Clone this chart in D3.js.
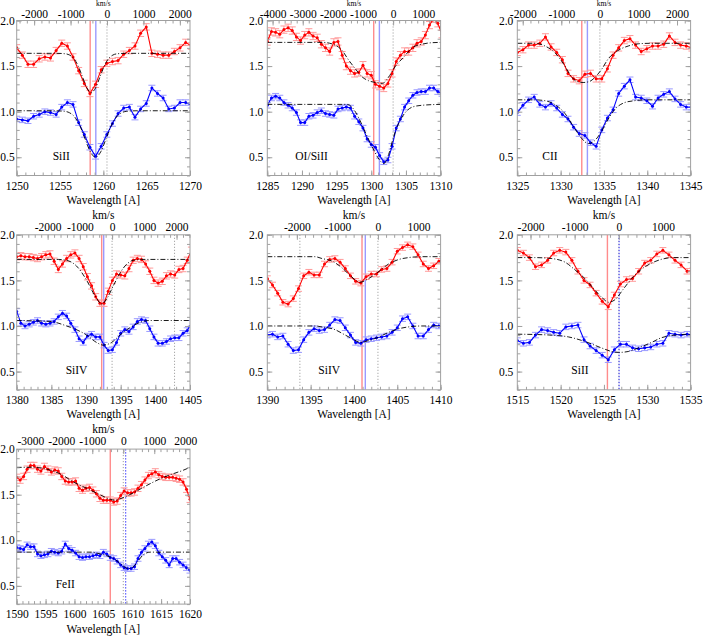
<!DOCTYPE html>
<html><head><meta charset="utf-8">
<script src="https://cdn.jsdelivr.net/npm/d3@7"></script>
<style>body{margin:0;background:#fff}svg{display:block}svg text{font-family:"Liberation Serif","DejaVu Serif",serif}</style>
</head><body>
<svg id="c" width="708" height="643"></svg>
<script>
// ---------------- DATA ----------------
const panelNames = ["SiII", "OI/SiII", "CII", "SiIV", "SiIV", "SiII", "FeII"];
const wlRanges = [[1250,1270],[1285,1310],[1325,1345],[1380,1405],[1390,1410],[1515,1535],[1590,1620]];
const restWl = [1260.42, 1303.15, 1334.53, 1393.76, 1402.77, 1526.71, 1608.45];
const redMarkWl = [1258.48, 1300.35, 1332.44, 1392.26, 1400.93, 1525.40, 1606.20];
const blueMarkWl = [1259.13, 1301.17, 1333.09, 1392.55, 1401.31, 1526.75, 1608.87];
const dottedWl = [[1260.42],[1303.15],[1334.53],[1393.76,1402.77],[1393.76,1402.77],[1526.71],[1608.45]];
const errRed = [0.035, 0.04, 0.035, 0.035, 0.03, 0.03, 0.035];
const errBlue = [0.03, 0.03, 0.03, 0.03, 0.03, 0.03, 0.03];

const wl1 = [1250.00,1250.65,1251.30,1251.95,1252.60,1253.25,1253.90,1254.55,1255.20,1255.85,1256.50,1257.15,1257.80,1258.45,1259.10,1259.75,1260.40,1261.05,1261.70,1262.35,1263.00,1263.65,1264.30,1264.95,1265.60,1266.25,1266.90,1267.55,1268.20,1268.85,1269.50,1270.15];
const red1 = [1.70,1.62,1.52,1.52,1.58,1.60,1.59,1.67,1.75,1.72,1.60,1.45,1.31,1.20,1.30,1.46,1.53,1.55,1.56,1.63,1.67,1.72,1.86,1.93,1.64,1.63,1.62,1.62,1.66,1.70,1.76,1.72];
const blue1 = [0.92,0.91,0.90,0.95,0.97,1.00,0.99,0.97,1.05,1.10,1.08,0.88,0.75,0.61,0.51,0.62,0.75,0.87,0.98,1.04,1.05,0.94,1.03,1.09,1.26,1.20,1.15,1.03,1.04,1.10,1.10,1.07];
const modRed1 = [[1250,1.64],[1254.6,1.64],[1255.6,1.635],[1256.1,1.621],[1256.6,1.582],[1257.1,1.50],[1257.6,1.379],[1258.1,1.26],[1258.6,1.21],[1259.1,1.26],[1259.6,1.379],[1260.1,1.50],[1260.6,1.582],[1261.1,1.621],[1261.6,1.635],[1262.6,1.64],[1270,1.64]];
const modBlue1 = [[1250,1.01],[1254.3,1.01],[1255.5,1.004],[1256.1,0.988],[1256.7,0.941],[1257.3,0.844],[1257.9,0.70],[1258.5,0.56],[1259.1,0.50],[1259.7,0.56],[1260.3,0.70],[1260.9,0.844],[1261.5,0.941],[1262.1,0.988],[1262.7,1.004],[1263.9,1.01],[1270,1.01]];

const wl2 = [1285.0,1285.6,1286.2,1286.8,1287.4,1288.0,1288.6,1289.2,1289.8,1290.4,1291.0,1291.6,1292.2,1292.8,1293.4,1294.0,1294.6,1295.2,1295.8,1296.4,1297.0,1297.6,1298.2,1298.8,1299.4,1300.0,1300.6,1301.2,1301.8,1302.4,1303.0,1303.6,1304.2,1304.8,1305.4,1306.0,1306.6,1307.2,1307.8,1308.4,1309.0,1309.6,1310.2];
const red2 = [1.77,1.88,1.87,1.85,1.90,1.92,1.89,1.82,1.78,1.84,1.87,1.83,1.81,1.74,1.70,1.66,1.76,1.77,1.62,1.50,1.45,1.42,1.43,1.51,1.42,1.40,1.30,1.28,1.26,1.31,1.42,1.55,1.62,1.66,1.66,1.70,1.75,1.77,1.84,1.95,2.02,1.97,1.85];
const blue2 = [1.07,1.15,1.17,1.15,1.10,1.07,1.04,0.99,0.88,0.88,0.95,0.96,0.99,1.01,0.98,0.97,0.96,1.03,1.04,1.05,1.04,0.95,0.89,0.82,0.70,0.64,0.61,0.52,0.45,0.47,0.62,0.82,0.92,1.05,1.12,1.18,1.21,1.22,1.22,1.26,1.26,1.22,1.20];
const modRed2 = [[1285,1.76],[1293,1.76],[1294.8,1.73],[1295.8,1.67],[1296.7,1.57],[1297.7,1.47],[1298.7,1.38],[1299.6,1.34],[1300.6,1.32],[1301.6,1.31],[1302.5,1.38],[1303.5,1.50],[1304.7,1.60],[1305.9,1.70],[1307.3,1.74],[1308.5,1.755],[1310,1.76]];
const modBlue2 = [[1285,1.08],[1296.5,1.08],[1297.2,1.05],[1298.2,0.93],[1299.1,0.78],[1300.1,0.62],[1301.1,0.48],[1301.8,0.43],[1302.5,0.53],[1303.2,0.72],[1304.0,0.88],[1304.9,0.99],[1305.9,1.05],[1307.3,1.07],[1310,1.08]];

const wl3 = [1325.00,1325.65,1326.30,1326.95,1327.60,1328.25,1328.90,1329.55,1330.20,1330.85,1331.50,1332.15,1332.80,1333.45,1334.10,1334.75,1335.40,1336.05,1336.70,1337.35,1338.00,1338.65,1339.30,1339.95,1340.60,1341.25,1341.90,1342.55,1343.20,1343.85,1344.50,1345.15];
const red3 = [1.65,1.68,1.73,1.73,1.75,1.82,1.71,1.65,1.57,1.42,1.36,1.34,1.41,1.42,1.36,1.36,1.47,1.62,1.70,1.78,1.80,1.73,1.66,1.69,1.72,1.72,1.74,1.83,1.76,1.73,1.72,1.70];
const blue3 = [0.99,1.07,1.13,1.16,1.08,1.05,1.09,1.04,0.97,0.92,0.83,0.76,0.74,0.66,0.62,0.80,0.93,1.02,1.20,1.28,1.35,1.16,1.15,1.12,1.06,1.15,1.19,1.22,1.14,1.08,1.05,1.05];
const modRed3 = [[1325,1.75],[1327,1.75],[1328.2,1.72],[1329.4,1.64],[1330.5,1.50],[1331.2,1.39],[1331.9,1.33],[1332.6,1.32],[1333.3,1.33],[1334.0,1.38],[1334.7,1.46],[1335.5,1.58],[1336.6,1.67],[1337.8,1.72],[1339,1.745],[1340.5,1.75],[1345,1.75]];
const modBlue3 = [[1325,1.13],[1327,1.13],[1328.2,1.12],[1329.3,1.08],[1330.5,0.98],[1331.6,0.82],[1332.4,0.71],[1333.2,0.65],[1333.9,0.68],[1334.7,0.78],[1335.5,0.92],[1336.3,1.03],[1337.4,1.10],[1338.5,1.12],[1340,1.13],[1345,1.13]];

const wl4 = [1380.0,1380.6,1381.2,1381.8,1382.4,1383.0,1383.6,1384.2,1384.8,1385.4,1386.0,1386.6,1387.2,1387.8,1388.4,1389.0,1389.6,1390.2,1390.8,1391.4,1392.0,1392.6,1393.2,1393.8,1394.4,1395.0,1395.6,1396.2,1396.8,1397.4,1398.0,1398.6,1399.2,1399.8,1400.4,1401.0,1401.6,1402.2,1402.8,1403.4,1404.0,1404.6,1405.2];
const red4 = [1.76,1.77,1.76,1.76,1.75,1.74,1.76,1.78,1.79,1.71,1.62,1.68,1.74,1.78,1.80,1.74,1.65,1.54,1.44,1.32,1.25,1.25,1.38,1.50,1.57,1.56,1.55,1.63,1.72,1.74,1.73,1.68,1.60,1.50,1.47,1.49,1.55,1.57,1.56,1.62,1.63,1.72,1.83];
const blue4 = [1.16,1.03,1.00,1.02,1.04,1.06,1.03,1.02,1.03,1.05,1.10,1.14,1.11,1.03,0.96,0.86,0.82,0.89,0.91,0.88,0.88,0.79,0.73,0.74,0.82,0.92,0.96,0.94,0.99,1.05,1.07,1.06,0.97,0.88,0.81,0.81,0.83,0.86,0.87,0.87,0.92,0.95,1.03];
const modRed4 = [[1380,1.73],[1386,1.73],[1387.2,1.72],[1388.6,1.66],[1390.1,1.50],[1391.3,1.33],[1392.3,1.24],[1393.0,1.30],[1394.0,1.45],[1394.9,1.58],[1395.9,1.68],[1396.8,1.72],[1398,1.73],[1405,1.73]];
const modBlue4 = [[1380,1.06],[1384.8,1.05],[1387.2,1.00],[1388.6,0.96],[1390.1,0.90],[1391.5,0.82],[1392.5,0.79],[1393.7,0.82],[1394.9,0.90],[1396.3,0.98],[1397.8,1.04],[1399.2,1.06],[1405,1.06]];

const wl5 = [1390.0,1390.6,1391.2,1391.8,1392.4,1393.0,1393.6,1394.2,1394.8,1395.4,1396.0,1396.6,1397.2,1397.8,1398.4,1399.0,1399.6,1400.2,1400.8,1401.4,1402.0,1402.6,1403.2,1403.8,1404.4,1405.0,1405.6,1406.2,1406.8,1407.4,1408.0,1408.6,1409.2,1409.8,1410.4];
const red5 = [1.52,1.45,1.36,1.26,1.24,1.30,1.41,1.55,1.59,1.56,1.56,1.68,1.73,1.74,1.70,1.63,1.55,1.49,1.47,1.54,1.57,1.57,1.62,1.63,1.70,1.82,1.86,1.89,1.87,1.78,1.68,1.63,1.66,1.71,1.73];
const blue5 = [0.90,0.91,0.88,0.89,0.80,0.73,0.74,0.85,0.93,0.97,0.95,0.96,1.01,1.07,1.06,0.98,0.90,0.82,0.81,0.85,0.86,0.87,0.88,0.89,0.93,0.98,1.08,1.10,1.00,0.89,0.89,0.96,1.01,1.00,0.99];
const modRed5 = [[1390,1.76],[1395.5,1.76],[1396.3,1.74],[1397.5,1.71],[1398.6,1.64],[1399.6,1.55],[1400.7,1.48],[1401.7,1.52],[1402.9,1.60],[1404.0,1.68],[1405.2,1.73],[1406.3,1.75],[1407.8,1.76],[1410,1.76]];
const modBlue5 = [[1390,1.00],[1395.5,1.00],[1396.3,0.99],[1397.8,0.96],[1399.0,0.90],[1400.0,0.85],[1400.7,0.82],[1401.7,0.84],[1402.9,0.88],[1404.0,0.93],[1405.2,0.97],[1406.3,0.99],[1407.8,1.00],[1410,1.00]];

const wl6 = [1515.0,1515.7,1516.4,1517.1,1517.8,1518.5,1519.2,1519.9,1520.6,1521.3,1522.0,1522.7,1523.4,1524.1,1524.8,1525.5,1526.2,1526.9,1527.6,1528.3,1529.0,1529.7,1530.4,1531.1,1531.8,1532.5,1533.2,1533.9,1534.6,1535.3];
const red6 = [1.83,1.80,1.75,1.65,1.67,1.72,1.80,1.83,1.81,1.72,1.60,1.50,1.45,1.36,1.27,1.21,1.34,1.46,1.51,1.52,1.60,1.69,1.72,1.79,1.83,1.78,1.72,1.67,1.60,1.61];
const blue6 = [0.84,0.81,0.82,0.90,0.96,0.95,0.93,0.92,0.99,1.00,1.01,0.85,0.78,0.73,0.68,0.63,0.74,0.80,0.80,0.76,0.75,0.76,0.77,0.80,0.81,0.92,0.91,0.90,0.91,0.90];
const modRed6 = [[1515,1.75],[1517,1.75],[1518.9,1.74],[1520.5,1.70],[1521.6,1.62],[1522.8,1.52],[1523.9,1.40],[1524.9,1.30],[1525.5,1.26],[1526.3,1.29],[1527.2,1.40],[1528.2,1.52],[1529.3,1.62],[1530.5,1.69],[1531.6,1.73],[1533,1.75],[1535,1.75]];
const modBlue6 = [[1515,0.91],[1518.9,0.90],[1520.9,0.88],[1522.8,0.83],[1524.7,0.76],[1525.9,0.72],[1526.7,0.71],[1527.8,0.72],[1529.0,0.76],[1530.5,0.82],[1531.6,0.87],[1533.2,0.90],[1535,0.91]];

const wl7 = [1590.0,1590.6,1591.2,1591.8,1592.4,1593.0,1593.6,1594.2,1594.8,1595.4,1596.0,1596.6,1597.2,1597.8,1598.4,1599.0,1599.6,1600.2,1600.8,1601.4,1602.0,1602.6,1603.2,1603.8,1604.4,1605.0,1605.6,1606.2,1606.8,1607.4,1608.0,1608.6,1609.2,1609.8,1610.4,1611.0,1611.6,1612.2,1612.8,1613.4,1614.0,1614.6,1615.2,1615.8,1616.4,1617.0,1617.6,1618.2,1618.8,1619.4,1620.0];
const red7 = [1.69,1.66,1.70,1.78,1.82,1.82,1.78,1.76,1.81,1.78,1.75,1.77,1.76,1.70,1.65,1.64,1.64,1.65,1.57,1.55,1.57,1.58,1.55,1.51,1.46,1.44,1.44,1.44,1.42,1.43,1.49,1.54,1.52,1.52,1.53,1.57,1.61,1.66,1.71,1.73,1.75,1.72,1.70,1.69,1.69,1.69,1.68,1.67,1.64,1.56,1.45];
const blue7 = [0.92,0.91,0.90,0.95,0.93,0.93,0.85,0.83,0.84,0.85,0.88,0.87,0.86,0.88,0.96,0.91,0.89,0.86,0.82,0.81,0.82,0.82,0.83,0.84,0.83,0.87,0.85,0.81,0.80,0.77,0.73,0.70,0.69,0.69,0.71,0.80,0.87,0.91,0.96,0.98,0.94,0.86,0.82,0.78,0.73,0.80,0.80,0.76,0.73,0.70,0.67];
const modRed7 = [[1590,1.80],[1592.9,1.80],[1595.8,1.77],[1597.8,1.72],[1599.8,1.64],[1602.1,1.57],[1604.4,1.50],[1606.2,1.45],[1607.0,1.44],[1608.5,1.47],[1610.2,1.52],[1611.9,1.58],[1613.7,1.64],[1615.4,1.69],[1617.1,1.73],[1618.9,1.77],[1620,1.80]];
const modBlue7 = [[1590,0.87],[1603,0.87],[1603.8,0.86],[1605.6,0.83],[1607.0,0.79],[1608.2,0.73],[1609.3,0.69],[1610.2,0.71],[1611.1,0.78],[1611.9,0.84],[1613.1,0.87],[1620,0.87]];

const wlSets = [wl1, wl2, wl3, wl4, wl5, wl6, wl7];
const redSets = [red1, red2, red3, red4, red5, red6, red7];
const blueSets = [blue1, blue2, blue3, blue4, blue5, blue6, blue7];
const modRedSets = [modRed1, modRed2, modRed3, modRed4, modRed5, modRed6, modRed7];
const modBlueSets = [modBlue1, modBlue2, modBlue3, modBlue4, modBlue5, modBlue6, modBlue7];
const yTicks = [0.5, 1.0, 1.5, 2.0];

// ---------------- LAYOUT / STYLE ----------------
const C_KMS = 299792.458;
const FONT = "Liberation Serif, DejaVu Serif, serif";
const FS = 11.5;
const colLefts = [16.7, 267.3, 517.3];
const rowTops = [20.5, 234.8, 449.1];
const PW = 173.3, PH = 155;
const labelDX = [36, 28, 25, 49, 51, 54, 39];
const blueDottedPanels = [false, false, false, false, false, true, true];
const AX = "#a0a0a0";

const svg = d3.select("#c");

panelNames.forEach((name, k) => {
  const col = k % 3, row = Math.floor(k / 3);
  const L = colLefts[col], T = rowTops[row];
  const dom = wlRanges[k];
  const lam0 = restWl[k];
  const x = d3.scaleLinear().domain(dom).range([L, L + PW]);
  const y = d3.scaleLinear().domain([0.3, 2.0]).range([T + PH, T]);
  const v = d3.scaleLinear().domain(dom.map(l => C_KMS * (l / lam0 - 1))).range([L, L + PW]);

  const g = svg.append("g");
  const clipId = "clip" + k;
  g.append("clipPath").attr("id", clipId).append("rect")
    .attr("x", L).attr("y", T).attr("width", PW).attr("height", PH);
  const pg = g.append("g").attr("clip-path", `url(#${clipId})`);

  dottedWl[k].forEach(w => {
    pg.append("line").attr("x1", x(w)).attr("x2", x(w)).attr("y1", T).attr("y2", T + PH)
      .attr("stroke", "#777").attr("stroke-width", 0.8).attr("stroke-dasharray", "1,2");
  });
  pg.append("line").attr("x1", x(redMarkWl[k])).attr("x2", x(redMarkWl[k])).attr("y1", T).attr("y2", T + PH)
    .attr("stroke", "#ff8c8c").attr("stroke-width", 1.4);
  const bl = pg.append("line").attr("x1", x(blueMarkWl[k])).attr("x2", x(blueMarkWl[k])).attr("y1", T).attr("y2", T + PH)
    .attr("stroke", blueDottedPanels[k] ? "#3a3aff" : "#9a9aff").attr("stroke-width", blueDottedPanels[k] ? 1 : 1.4);
  if (blueDottedPanels[k]) bl.attr("stroke-dasharray", "1.5,1.5");

  const series = [
    {vals: redSets[k], err: errRed[k], line: "#ff0000", ebar: "#ff9a9a"},
    {vals: blueSets[k], err: errBlue[k], line: "#0000ff", ebar: "#9a9aff"}
  ];
  const wl = wlSets[k];
  series.forEach(s => {
    const pts = wl.map((w, i) => [w, s.vals[i]]);
    const eg = pg.append("g").attr("stroke", s.ebar).attr("stroke-width", 1);
    pts.forEach(([w, val]) => {
      const cx = x(w), y1 = y(val - s.err), y2 = y(val + s.err);
      eg.append("line").attr("x1", cx).attr("x2", cx).attr("y1", y1).attr("y2", y2);
      eg.append("line").attr("x1", cx - 3.5).attr("x2", cx + 3.5).attr("y1", y1).attr("y2", y1);
      eg.append("line").attr("x1", cx - 3.5).attr("x2", cx + 3.5).attr("y1", y2).attr("y2", y2);
    });
    pg.append("path").datum(pts)
      .attr("d", d3.line().x(d => x(d[0])).y(d => y(d[1])))
      .attr("fill", "none").attr("stroke", s.line).attr("stroke-width", 1.1);
    pg.append("g").selectAll("circle").data(pts).join("circle")
      .attr("cx", d => x(d[0])).attr("cy", d => y(d[1])).attr("r", 1.5).attr("fill", s.line);
  });

  [modRedSets[k], modBlueSets[k]].forEach(m => {
    pg.append("path").datum(m)
      .attr("d", d3.line().curve(d3.curveMonotoneX).x(d => x(d[0])).y(d => y(d[1])))
      .attr("fill", "none").attr("stroke", "#000").attr("stroke-width", 0.9)
      .attr("stroke-dasharray", "5,2,1,2");
  });

  g.append("rect").attr("x", L).attr("y", T).attr("width", PW).attr("height", PH)
    .attr("fill", "none").attr("stroke", AX).attr("stroke-width", 1);

  const styleAxis = (sel) => {
    sel.select(".domain").remove();
    sel.selectAll(".tick line").attr("stroke", AX);
    sel.selectAll("text").attr("font-family", FONT).attr("font-size", FS).attr("fill", "#000");
  };

  const xMaj = d3.range(dom[0], dom[1] + 0.01, 5);
  const xMin = d3.range(dom[0], dom[1] + 0.01, 1);
  g.append("g").attr("transform", `translate(0,${T + PH})`)
    .call(d3.axisBottom(x).tickValues(xMin).tickSizeInner(-3).tickSizeOuter(0).tickFormat(""))
    .call(styleAxis);
  g.append("g").attr("transform", `translate(0,${T + PH})`)
    .call(d3.axisBottom(x).tickValues(xMaj).tickSizeInner(-5).tickSizeOuter(0).tickPadding(6).tickFormat(d3.format("d")))
    .call(styleAxis);

  const vd = v.domain();
  const vMaj = d3.range(Math.ceil(vd[0] / 1000) * 1000, vd[1] + 1, 1000);
  const vMin = d3.range(Math.ceil(vd[0] / 200) * 200, vd[1] + 1, 200);
  g.append("g").attr("transform", `translate(0,${T})`)
    .call(d3.axisTop(v).tickValues(vMin).tickSizeInner(-3).tickSizeOuter(0).tickFormat(""))
    .call(styleAxis);
  g.append("g").attr("transform", `translate(0,${T})`)
    .call(d3.axisTop(v).tickValues(vMaj).tickSizeInner(-5).tickSizeOuter(0).tickPadding(row === 0 ? 2.5 : 4).tickFormat(d => String(d)))
    .call(styleAxis);

  const yMin = d3.range(0.3, 2.001, 0.1);
  g.append("g").attr("transform", `translate(${L},0)`)
    .call(d3.axisLeft(y).tickValues(yMin).tickSizeInner(-3).tickSizeOuter(0).tickFormat(""))
    .call(styleAxis);
  g.append("g").attr("transform", `translate(${L},0)`)
    .call(d3.axisLeft(y).tickValues(yTicks).tickSizeInner(-5).tickSizeOuter(0).tickPadding(col === 0 ? 2 : 4).tickFormat(d3.format(".1f")))
    .call(styleAxis);
  g.append("g").attr("transform", `translate(${L + PW},0)`)
    .call(d3.axisRight(y).tickValues(yMin).tickSizeInner(-3).tickSizeOuter(0).tickFormat(""))
    .call(styleAxis);
  g.append("g").attr("transform", `translate(${L + PW},0)`)
    .call(d3.axisRight(y).tickValues(yTicks).tickSizeInner(-5).tickSizeOuter(0).tickFormat(""))
    .call(styleAxis);

  // km/s title: in the first row there is almost no room above the tick labels, so it is set smaller
  const kmFs = row === 0 ? 7.5 : FS;
  const kmY = row === 0 ? 6.3 : T - 16;
  g.append("text").attr("x", L + PW / 2).attr("y", kmY).attr("text-anchor", "middle")
    .attr("font-family", FONT).attr("font-size", kmFs).text("km/s");
  g.append("text").attr("x", L + PW / 2).attr("y", T + PH + 28.5).attr("text-anchor", "middle")
    .attr("font-family", FONT).attr("font-size", FS).text("Wavelength [A]");
  g.append("text").attr("x", L + labelDX[k]).attr("y", T + 139)
    .attr("font-family", FONT).attr("font-size", FS).text(name);
});
</script>
</body></html>
